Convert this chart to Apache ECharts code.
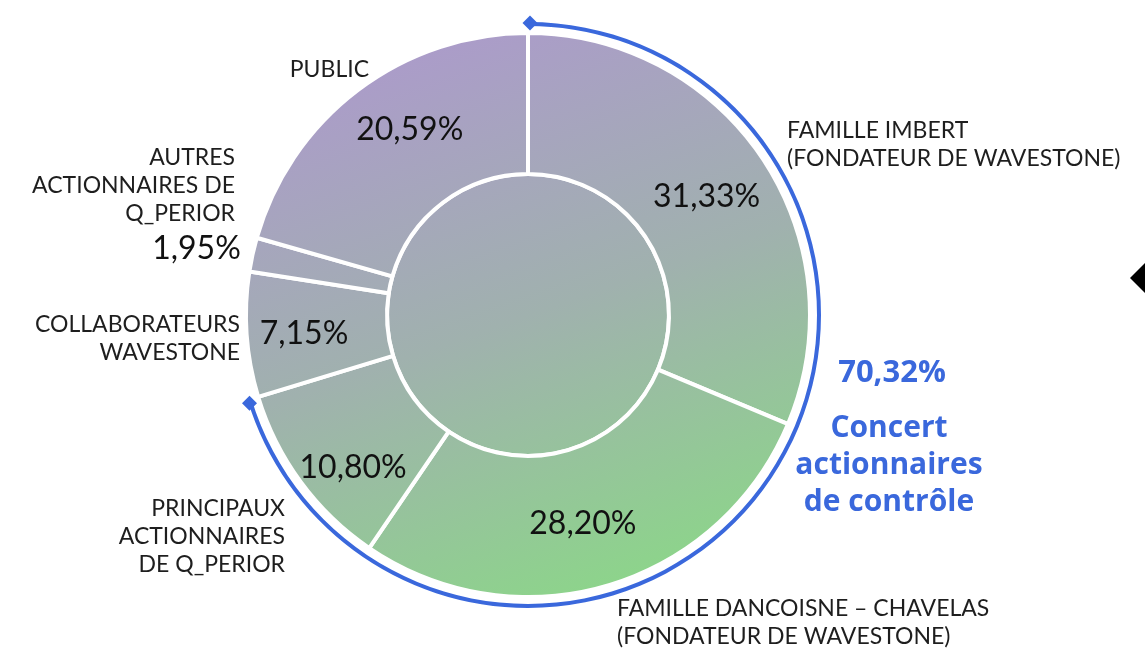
<!DOCTYPE html>
<html>
<head>
<meta charset="utf-8">
<script src="https://cdn.jsdelivr.net/npm/echarts@6/dist/echarts.min.js"></script>
<style>
  html, body { margin: 0; padding: 0; background: #fff; }
  #chart { width: 1145px; height: 649px; }
</style>
</head>
<body>
<div id="chart"></div>
<script>
// actionnariat (clockwise from 12 o'clock)
const categories = [
  'FAMILLE IMBERT\n(FONDATEUR DE WAVESTONE)',
  'FAMILLE DANCOISNE – CHAVELAS\n(FONDATEUR DE WAVESTONE)',
  'PRINCIPAUX\nACTIONNAIRES\nDE Q_PERIOR',
  'COLLABORATEURS\nWAVESTONE',
  'AUTRES\nACTIONNAIRES DE\nQ_PERIOR',
  'PUBLIC'
]
const shares = [31.33, 28.20, 10.80, 7.15, 1.95, 20.59]
const concertShare = 70.32
const concertLabel = 'Concert\nactionnaires\nde contrôle'

const CX = 528, CY = 315
const BLUE = '#3a68dc'
const FONT = 'Lato, "Noto Sans", sans-serif'
const BOLD_FONT = '"Open Sans", Lato, sans-serif'
const LH = 28

// where each name label sits (x, centre of first line)
const nameLayout = [
  { x: 787, y: 131, align: 'left' },
  { x: 617, y: 609, align: 'left' },
  { x: 285, y: 509, align: 'right' },
  { x: 240, y: 325, align: 'right' },
  { x: 235, y: 158, align: 'right' },
  { x: 369, y: 70, align: 'right' }
]
// small nudges of the percentage labels
const pctNudge = [[0, 0], [-6, 3], [-2, 26], [-10, 4], [-122, -20], [11, -14]]

const fmt = v => v.toFixed(2).replace('.', ',') + '%'

const grad = new echarts.graphic.LinearGradient(434, 46, 622, 584, [
  { offset: 0, color: '#ab9cc9' },
  { offset: 0.5, color: '#a0b1ae' },
  { offset: 1, color: '#8dd48b' }
], true)

function diamond(x, y, h) {
  return [[x - h, y], [x, y - h], [x + h, y], [x, y + h]]
}

const graphics = []
categories.forEach((name, i) => {
  const l = nameLayout[i]
  graphics.push({
    type: 'text',
    x: l.x, y: l.y - LH / 2,
    style: {
      text: name, font: '23px ' + FONT, fill: '#1e1e1e',
      textAlign: l.align, align: l.align,
      textVerticalAlign: 'top', verticalAlign: 'top',
      lineHeight: LH
    },
    silent: true
  })
})
// arc ends
const endA = (90 - concertShare * 3.6) * Math.PI / 180
graphics.push({ type: 'polygon', shape: { points: diamond(CX + 2, 23, 7.5) }, style: { fill: BLUE } })
graphics.push({ type: 'polygon', shape: { points: diamond(CX + 291 * Math.cos(endA), CY - 291 * Math.sin(endA) + 4, 7.5) }, style: { fill: BLUE } })
graphics.push({ type: 'polygon', shape: { points: diamond(1148, 278, 18) }, style: { fill: '#000' } })
graphics.push({
  type: 'text', x: 892, y: 373,
  style: { text: fmt(concertShare), font: 'bold 31px ' + BOLD_FONT, fill: BLUE, textAlign: 'center', align: 'center', textVerticalAlign: 'middle', verticalAlign: 'middle' }
})
graphics.push({
  type: 'text', x: 889, y: 465,
  style: { text: concertLabel, font: 'bold 30px ' + BOLD_FONT, fill: BLUE, textAlign: 'center', align: 'center', textVerticalAlign: 'middle', verticalAlign: 'middle', lineHeight: 37 }
})

const option = {
  animation: false,
  series: [
    {
      type: 'pie',
      center: [CX, CY],
      radius: [0, 141],
      silent: true,
      label: { show: false },
      itemStyle: { color: grad, borderColor: '#fff', borderWidth: 4 },
      data: [1]
    },
    {
      type: 'pie',
      center: [CX, CY],
      radius: [141, 282],
      startAngle: 90,
      clockwise: true,
      silent: true,
      itemStyle: { color: grad, borderColor: '#fff', borderWidth: 4 },
      label: {
        show: true, position: 'inside',
        formatter: p => fmt(p.value),
        fontFamily: FONT, fontSize: 32, color: '#111'
      },
      labelLayout: p => ({ dx: pctNudge[p.dataIndex][0], dy: pctNudge[p.dataIndex][1] }),
      data: shares.map((v, i) => ({ value: v, name: categories[i] }))
    },
    {
      type: 'pie',
      center: [CX, CY],
      radius: [289, 293],
      startAngle: 90,
      clockwise: true,
      silent: true,
      label: { show: false },
      data: [
        { value: concertShare, itemStyle: { color: BLUE } },
        { value: 100 - concertShare, itemStyle: { color: 'transparent' } }
      ]
    }
  ],
  graphic: graphics
}

const chart = echarts.init(document.getElementById('chart'))
chart.setOption(option)
</script>
</body>
</html>
